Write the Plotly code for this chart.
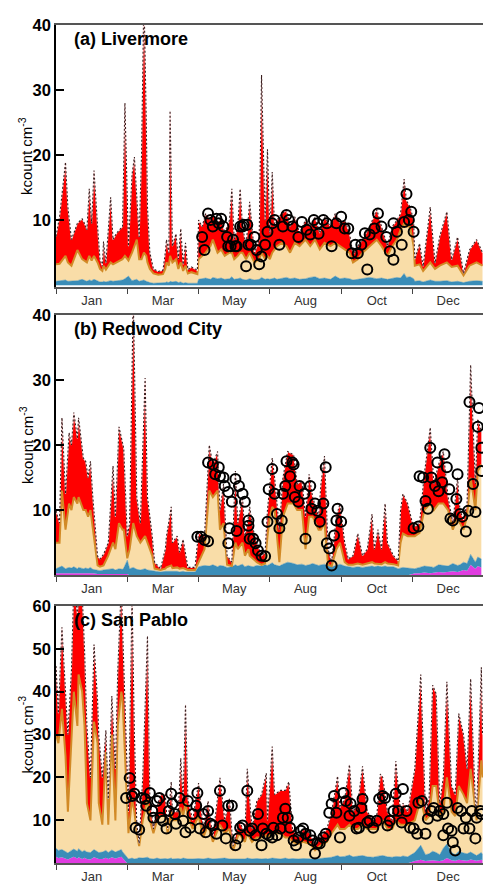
import plotly.graph_objects as go

W, H = 483, 888

# month labels sit between the 60-day tick marks
MONTH_TICKS = [0, 60, 120, 180, 240, 300]
MONTH_MIDS = [30, 90, 150, 210, 270, 330]
MONTH_LABELS = ["Jan", "Mar", "May", "Aug", "Oct", "Dec"]

# ---- (a) Livermore ----
A_DAY = [0, 3, 8, 10, 13, 18, 22, 24, 26, 28,
         30, 32, 35, 37, 39, 40, 42, 46, 48, 51,
         56, 58, 61, 64, 66, 68, 70, 72, 74, 76,
         77, 79, 82, 86, 90, 92, 93, 95, 96, 98,
         101, 103, 105, 107, 109, 111, 114, 119, 120, 123,
         126, 130, 132, 136, 139, 142, 146, 148, 150, 153,
         155, 157, 160, 163, 167, 171, 173, 176, 178, 180,
         182, 184, 186, 190, 194, 197, 201, 205, 210, 214,
         218, 222, 226, 231, 235, 239, 243, 247, 250, 254,
         258, 264, 270, 274, 279, 283, 287, 290, 293, 295,
         298, 301, 302, 306, 309, 315, 319, 323, 329, 333,
         338, 343, 348, 354, 359]
A_TOTAL = [7.5, 10.5, 18.9, 12, 7, 9.5, 10.2, 9.5, 8.5, 14.8,
           9.5, 17.6, 9, 4, 2.9, 6.7, 3.4, 13.5, 7, 8,
           9, 28, 6, 17, 19.7, 14, 7.4, 20, 45, 25,
           12, 5, 2.5, 2.1, 2.3, 5, 7, 5, 26.8, 6,
           7.9, 4, 8.7, 3.2, 6.5, 2.4, 2.8, 2.3, 10, 9,
           11, 10, 11, 9.5, 10.5, 8, 10, 14.8, 7, 9,
           14.8, 9, 6, 12.8, 4.9, 7, 32.3, 10, 20.9, 8,
           17.4, 9, 10, 11, 11.5, 9, 10.5, 8, 10, 9,
           10.5, 8, 10.5, 9, 11, 9.5, 10, 8, 4.7, 6,
           7, 9, 11.6, 9, 6, 9, 10, 11, 16.3, 13,
           12, 10, 4, 6.4, 2.9, 12, 3.4, 7.5, 11.3, 3.9,
           7.4, 1.8, 5.4, 7, 5]
A_BASE = [3.2, 3.3, 4.5, 3.5, 3.0, 5.4, 4, 3.8, 3.5, 4.5,
          3.8, 4.5, 3.5, 2.5, 2.2, 3, 2.4, 3.5, 3.2, 3.5,
          4, 4.5, 3.8, 5, 6, 7, 4, 4, 5, 4.5,
          3.5, 2.5, 1.8, 1.6, 1.7, 2.5, 3.5, 3, 4.5, 3.5,
          4, 2.5, 3.5, 2.2, 3, 1.8, 2, 1.7, 4, 4.5,
          5, 6, 7, 5, 5.5, 4.5, 5, 5, 4, 4.5,
          5, 5, 4, 5, 3.5, 4, 5, 4, 4.5, 4,
          5, 5.5, 6, 6.5, 6, 5, 6.5, 6, 7, 6,
          7, 5.5, 6.5, 6, 6.5, 6, 5.5, 5, 3.5, 4,
          5, 6, 7, 6, 4.5, 6, 7, 8.5, 9.5, 9,
          9, 6, 3, 3.2, 2.2, 3.5, 2.5, 3, 3.5, 2.8,
          3, 1.5, 3, 3.5, 3]
A_BLUE = [0.6, 0.7, 0.8, 0.6, 0.6, 0.7, 0.9, 0.7, 0.6, 0.8,
          0.7, 0.9, 0.6, 0.5, 0.5, 0.6, 0.5, 0.7, 0.6, 0.7,
          0.8, 1.0, 1.4, 0.7, 0.8, 0.9, 0.6, 0.7, 0.8, 0.6,
          0.5, 0.4, 0.3, 0.3, 0.3, 0.4, 0.5, 0.4, 0.6, 0.5,
          0.6, 0.4, 0.5, 0.3, 0.4, 0.3, 0.3, 0.3, 0.9, 1.0,
          1.1, 0.9, 1.2, 1.0, 1.1, 0.9, 1.0, 1.3, 0.9, 1.0,
          1.1, 0.9, 0.8, 1.0, 0.8, 0.9, 1.2, 0.9, 1.0, 0.9,
          1.0, 1.1, 0.9, 1.0, 1.2, 1.0, 1.1, 0.9, 1.0, 1.2,
          1.3, 1.0, 1.1, 0.9, 1.4, 1.0, 1.1, 1.0, 0.8, 0.9,
          1.0, 1.2, 1.0, 1.1, 0.9, 1.0, 1.2, 1.1, 1.8, 1.2,
          1.3, 1.0, 0.6, 0.7, 0.5, 0.8, 0.6, 0.6, 0.7, 0.5,
          0.6, 0.4, 0.6, 0.7, 0.6]
A_MAG = [0] * len(A_DAY)
A_OBS_DAY = [123, 125, 128, 130, 132, 135, 137, 139, 141, 144,
             145, 147, 149, 151, 152, 155, 157, 158, 160, 161,
             162, 164, 167, 169, 171, 173, 176, 178, 182, 184,
             188, 191, 194, 196, 199, 204, 207, 211, 214, 217,
             220, 221, 225, 228, 232, 236, 240, 243, 246, 249,
             252, 254, 257, 260, 262, 264, 268, 271, 274, 278,
             281, 284, 284, 287, 291, 293, 295, 297, 299, 301]
A_OBS = [7.4, 5.4, 11, 10, 9, 10.2, 9.5, 10.2, 9, 7.4,
         6, 6, 7, 6, 6, 9, 9, 9.3, 2.9, 9.3,
         6.2, 6.2, 7.4, 5.4, 3.2, 4.4, 6.2, 8.2, 9.5, 10,
         6.2, 9, 10.8, 10, 9, 7.4, 9.7, 8.5, 7.8, 10,
         9.5, 7.9, 10, 9.5, 6, 9.5, 10.5, 8.7, 8.7, 4.9,
         6.2, 4.9, 6.2, 8, 2.4, 7.8, 8.7, 11, 9, 7.4,
         5.2, 9.5, 3.9, 8.2, 6.2, 9.7, 14, 10, 11.3, 8.2]

# ---- (b) Redwood City ----
B_DAY = [0, 3, 5, 8, 11, 13, 15, 18, 19, 23,
         25, 27, 29, 31, 35, 37, 40, 44, 48, 50,
         53, 56, 57, 60, 62, 65, 68, 71, 75, 77,
         81, 83, 88, 92, 93, 97, 98, 102, 104, 107,
         109, 111, 117, 120, 125, 129, 132, 136, 138, 141,
         144, 148, 151, 153, 157, 159, 162, 163, 166, 169,
         173, 176, 178, 180, 182, 184, 188, 191, 195, 200,
         203, 207, 210, 213, 216, 221, 223, 226, 229, 232,
         236, 239, 243, 246, 250, 254, 258, 262, 266, 268,
         271, 274, 277, 279, 284, 288, 290, 292, 296, 300,
         302, 306, 310, 315, 318, 322, 326, 330, 334, 338,
         340, 343, 346, 349, 353, 355, 358]
B_TOTAL = [9.9, 8, 24.2, 12.5, 21.9, 20, 25, 21, 24.2, 18,
           17.5, 15, 17.5, 12, 2.9, 2.5, 3.2, 5, 16.8, 9,
           22.8, 20, 19.5, 6, 8, 43, 12, 8, 30.3, 12,
           6, 2, 1, 4, 6, 10.5, 5, 6, 3.5, 5.5,
           3, 1.2, 1.2, 6.5, 6, 20, 17, 19, 10, 14,
           3, 2, 16, 8, 12, 6, 9, 10.5, 7, 5,
           3, 3.5, 10, 14, 18, 15, 7, 15, 19, 18.5,
           14, 14.5, 9, 15.5, 12, 9, 14, 18.3, 4, 2,
           9, 11, 5, 2.5, 3, 6.4, 3, 4, 9.4, 4,
           7, 4, 11, 5, 3, 2.2, 10, 12.5, 11, 8,
           7.5, 8, 15.5, 22.7, 14, 17, 19, 12, 8, 15,
           10, 8.5, 11, 32.3, 14, 24, 22]
B_BASE = [5, 5, 13, 7, 11, 10, 12, 11, 12, 10,
          10, 9, 10, 7, 1.5, 1.3, 1.5, 3, 5, 4,
          8, 7, 7, 2.6, 4, 8, 6, 5, 6, 5,
          3, 1, 0.8, 1, 1.2, 1.5, 1.1, 1.2, 1, 1.1,
          1, 0.8, 0.8, 2, 4, 13, 12, 13, 7, 8,
          1.6, 1.4, 5, 4, 5, 3, 4, 3, 2.5, 2,
          1.6, 1.8, 6, 9, 10.5, 10, 2, 9, 11, 11,
          10, 10, 4, 9, 9, 7, 7, 8, 1.6, 1.4,
          4, 5, 2, 1.6, 1.6, 1.8, 1.6, 1.8, 2, 1.8,
          1.8, 1.7, 2, 1.8, 1.7, 1.5, 5, 6.4, 6, 6,
          6, 6.5, 10, 11, 10, 11, 11, 10, 7, 9,
          8, 7, 9, 15, 10, 16, 17]
B_BLUE = [1.0, 1.2, 1.4, 1.0, 1.2, 1.1, 1.3, 1.0, 1.2, 1.0,
          1.1, 1.0, 1.2, 0.9, 0.8, 0.7, 0.8, 0.9, 1.0, 0.8,
          1.0, 0.9, 1.1, 2.3, 1.0, 1.2, 0.9, 0.8, 1.0, 0.8,
          0.7, 0.6, 0.5, 0.6, 0.6, 0.7, 0.6, 0.6, 0.5, 0.6,
          0.5, 0.5, 0.5, 1.3, 1.5, 1.4, 1.6, 1.3, 1.5, 1.4,
          1.2, 1.3, 1.6, 1.4, 1.7, 1.3, 1.5, 1.4, 1.3, 1.5,
          1.4, 1.6, 1.5, 1.7, 1.9, 1.6, 1.4, 1.7, 2.0, 1.8,
          1.6, 1.7, 1.5, 1.6, 1.8, 1.5, 1.6, 1.7, 1.4, 1.3,
          1.5, 1.7, 1.4, 1.3, 1.2, 1.3, 1.2, 1.3, 1.4, 1.3,
          1.4, 1.3, 1.4, 1.3, 1.3, 1.0, 1.1, 1.2, 1.1, 1.0,
          1.0, 1.2, 1.4, 1.3, 1.2, 1.6, 1.5, 1.4, 1.8, 1.5,
          1.6, 2.0, 1.8, 3.2, 2.0, 2.8, 2.5]
B_MAG = [0.3, 0.3, 0.4, 0.3, 0.3, 0.3, 0.4, 0.3, 0.3, 0.3,
         0.3, 0.3, 0.3, 0.3, 0.2, 0.2, 0.2, 0.2, 0.3, 0.3,
         0.3, 0.3, 0.3, 0.2, 0, 0, 0, 0, 0, 0,
         0, 0, 0, 0, 0, 0, 0, 0, 0, 0,
         0, 0, 0, 0, 0, 0, 0, 0, 0, 0,
         0, 0, 0, 0, 0, 0, 0, 0, 0, 0,
         0, 0, 0, 0, 0, 0, 0, 0, 0, 0,
         0, 0, 0, 0, 0, 0, 0, 0, 0, 0,
         0, 0, 0, 0, 0, 0, 0, 0, 0, 0,
         0, 0, 0, 0, 0, 0, 0, 0, 0, 0.2,
         0.3, 0.3, 0.4, 0.3, 0.4, 0.5, 0.4, 0.5, 0.6, 0.5,
         0.6, 0.8, 0.7, 1.6, 1.0, 1.4, 1.2]
B_OBS_DAY = [119, 122, 125, 128, 128, 132, 134, 137, 138, 141,
             142, 145, 145, 146, 148, 151, 152, 154, 157, 159,
             162, 163, 162, 166, 168, 170, 173, 176, 178, 179,
             182, 184, 186, 188, 190, 191, 193, 194, 197, 199,
             200, 201, 204, 205, 209, 210, 214, 215, 218, 220,
             222, 225, 227, 228, 230, 232, 234, 236, 237, 240,
             301, 305, 306, 309, 311, 313, 315, 316, 319, 321,
             322, 325, 327, 329, 331, 332, 334, 337, 338, 340,
             342, 345, 347, 348, 351, 353, 355, 356, 358, 358]
B_OBS = [5.9, 5.9, 5.4, 5.2, 17.3, 17, 15.5, 16.6, 15.2, 15,
         13.7, 12.8, 4.9, 7.2, 11.3, 14.8, 6.8, 13.7, 12.5, 11.3,
         8.4, 5.6, 7.6, 5.6, 4.9, 3.8, 3, 2.9, 8.2, 13.2,
         16.3, 12.5, 9.4, 7.2, 8.4, 12.5, 13.7, 17.5, 15.2, 17.3,
         17, 12, 11.3, 13.7, 12.5, 5.6, 13.7, 10.2, 11, 9.9,
         8.2, 11, 16.6, 4.9, 4.1, 1.5, 6.1, 8.4, 10.2, 8.2,
         7.2, 7.5, 15.2, 15, 11.4, 10.2, 19.6, 15, 13.7, 17.3,
         12.9, 14.3, 18.6, 16.6, 13.2, 8.7, 8.4, 11.7, 15.5, 9.4,
         9, 6.7, 9.9, 26.6, 14, 9.7, 22.8, 25.7, 19.6, 16]

# ---- (c) San Pablo ----
C_DAY = [0, 2, 5, 8, 10, 13, 15, 18, 19, 22,
         24, 26, 29, 32, 35, 36, 39, 42, 44, 47,
         50, 52, 55, 56, 60, 61, 64, 66, 68, 70,
         73, 77, 79, 82, 85, 88, 92, 94, 97, 98,
         103, 105, 107, 109, 111, 115, 120, 124, 128, 132,
         138, 142, 146, 149, 154, 159, 161, 165, 169, 173,
         177, 178, 182, 184, 189, 193, 196, 199, 204, 208,
         214, 218, 222, 228, 232, 237, 239, 243, 247, 250,
         254, 258, 262, 267, 270, 273, 275, 279, 283, 286,
         290, 292, 296, 302, 307, 311, 314, 317, 320, 323,
         326, 329, 333, 336, 339, 343, 346, 349, 353, 354,
         358, 359]
C_TOTAL = [46, 35, 55, 40, 30, 45, 65, 58, 62, 63,
           50, 32, 20, 51, 38, 30, 20, 31, 15, 39,
           22, 45, 65, 55, 20, 12, 62, 30, 9, 4.6,
           20, 53, 15, 8, 13, 16, 16, 8, 19, 12,
           12, 24.5, 15, 37, 15, 10, 18.7, 8, 14.5, 6,
           19.9, 10, 15, 4, 10, 7, 22, 8, 14.5, 16,
           21, 10, 27.2, 16, 17, 17, 19, 8, 6, 8,
           7, 4, 6, 8, 12, 20.3, 13, 15, 23, 12,
           14, 22.6, 12, 10, 11, 20.8, 20, 12, 10, 23.8,
           12, 14, 12, 22, 44, 12, 15, 41.5, 39.5, 14,
           20, 42.3, 18, 16, 34.9, 30, 22, 43, 14, 12,
           45.7, 30]
C_BASE = [30, 28, 36, 25, 12, 28, 40, 32, 44, 40,
          32, 14, 10, 33, 28, 14, 9, 26, 9, 30,
          10, 32, 40, 38, 13, 7, 15, 12, 7, 4,
          10, 15, 10, 7, 10, 11, 11, 7, 12, 10,
          10, 13, 11, 14, 11, 8, 11, 6, 9, 5,
          9, 7, 8, 3, 7, 5, 7, 5, 6, 6,
          6.5, 6, 7, 7, 7, 6, 6, 5, 4.5, 5,
          4.5, 3, 4, 5, 7, 9, 8, 8, 9, 8,
          8, 9, 8, 8, 8, 9, 10, 8, 8, 10,
          9, 9, 9, 10, 15, 10, 11, 18, 18, 11,
          12, 20, 12, 11, 18, 16, 14, 22, 11, 10,
          24, 20]
C_BLUE = [3.5, 3.0, 3.2, 2.6, 2.4, 3.0, 3.3, 2.8, 3.4, 2.7,
          3.0, 2.6, 2.5, 3.2, 2.7, 2.5, 2.6, 3.0, 2.5, 3.1,
          2.6, 2.8, 3.2, 2.7, 1.2, 1.0, 1.2, 1.0, 1.1, 1.3,
          1.2, 1.4, 1.1, 1.0, 1.2, 1.0, 1.1, 1.0, 1.2, 1.0,
          1.1, 1.0, 1.2, 1.1, 1.0, 1.0, 1.1, 1.0, 1.2, 1.0,
          1.1, 1.2, 1.0, 1.0, 1.1, 1.0, 1.2, 1.0, 1.1, 1.0,
          1.1, 1.0, 1.2, 1.1, 1.0, 1.2, 1.0, 1.1, 1.0, 1.1,
          1.0, 1.0, 1.1, 1.2, 1.4, 1.8, 1.5, 1.6, 1.9, 1.5,
          1.6, 1.8, 1.5, 1.4, 1.6, 1.7, 1.8, 1.5, 1.4, 1.6,
          1.5, 1.7, 1.5, 2.5, 4.2, 2.0, 2.2, 2.8, 2.5, 2.0,
          3.5, 4.5, 2.5, 2.0, 2.8, 2.4, 2.2, 2.6, 2.0, 1.8,
          2.5, 2.0]
C_MAG = [1.5, 1.2, 1.4, 1.0, 0.9, 1.3, 1.5, 1.1, 1.4, 1.0,
         1.3, 1.0, 0.9, 1.4, 1.1, 1.0, 1.0, 1.3, 1.0, 1.4,
         1.1, 1.2, 1.5, 1.2, 0, 0, 0, 0, 0, 0,
         0, 0, 0, 0, 0, 0, 0, 0, 0, 0,
         0, 0, 0, 0, 0, 0, 0, 0, 0, 0,
         0, 0, 0, 0, 0, 0, 0, 0, 0, 0,
         0, 0, 0, 0, 0, 0, 0, 0, 0, 0,
         0, 0, 0, 0, 0, 0, 0, 0, 0, 0,
         0, 0, 0, 0, 0, 0, 0, 0, 0, 0,
         0, 0, 0, 0.5, 0.8, 0.5, 0.6, 0.7, 0.6, 0.5,
         0.7, 1.2, 0.7, 0.6, 0.8, 0.7, 0.6, 0.9, 0.7, 0.6,
         0.8, 0.7]
C_OBS_DAY = [59, 62, 64, 66, 67, 70, 72, 75, 76, 79,
             81, 82, 85, 87, 88, 90, 93, 95, 97, 98,
             100, 101, 104, 107, 109, 111, 113, 115, 118, 119,
             121, 124, 126, 128, 130, 132, 135, 138, 140, 143,
             145, 148, 151, 153, 155, 157, 161, 163, 165, 168,
             170, 173, 174, 177, 179, 182, 183, 186, 189, 191,
             193, 195, 197, 200, 202, 204, 206, 208, 210, 214,
             216, 218, 220, 222, 225, 227, 230, 232, 234, 236,
             239, 242, 244, 247, 248, 251, 253, 255, 257, 258,
             262, 264, 267, 270, 272, 275, 277, 279, 281, 284,
             286, 288, 291, 292, 295, 298, 301, 304, 305, 308,
             311, 313, 316, 318, 321, 323, 326, 326, 329, 330,
             333, 334, 336, 338, 341, 343, 345, 348, 350, 353,
             354, 357, 358]
C_OBS = [15.2, 19.9, 15.7, 16.2, 8.3, 7.8, 15.2, 15, 13.4, 16.4,
         12.2, 10.6, 14.5, 15.2, 10.6, 9.9, 8.1, 12.2, 16.2, 13.9,
         11.5, 9.2, 15.2, 9.9, 7.2, 14.5, 8.3, 11.5, 13.4, 16.4,
         8.1, 11.5, 7.2, 12.2, 9.2, 8.8, 6.9, 16.9, 8.8, 5.8,
         13.4, 13.4, 4.2, 5.8, 8.3, 8.8, 16.9, 7.6, 8.1, 6.5,
         11.5, 4.2, 8.1, 6.9, 6.5, 6, 8.3, 6.5, 8.1, 10.6,
         12.7, 10.6, 8.3, 5.3, 4.2, 6, 7.6, 8.1, 6.9, 6.5,
         5.3, 2.3, 4.6, 4.6, 6, 6.9, 11.8, 13.9, 15.7, 11.8,
         6, 16.4, 14.5, 11.1, 13.9, 12.2, 8.1, 8.3, 12.9, 15,
         9.5, 9.9, 8.3, 9.9, 15, 15.7, 15.2, 8.8, 9.9, 12.2,
         16.2, 12.2, 9.5, 17.3, 12.2, 8.3, 8.1, 6.9, 14.1, 14.5,
         6.9, 10.4, 12.2, 12.9, 11.1, 12.2, 11.5, 6.5, 14.1, 8.1,
         7.6, 4.9, 3, 12.9, 12.2, 8.1, 10.6, 8.1, 12.2, 5.8,
         10.6, 12.2, 11.5]

PANELS = [
    ("(a) Livermore", A_DAY, A_MAG, A_BLUE, A_BASE, A_TOTAL, A_OBS_DAY, A_OBS,
     [-0.3, 40], [10, 20, 30, 40], (16, 281)),
    ("(b) Redwood City", B_DAY, B_MAG, B_BLUE, B_BASE, B_TOTAL, B_OBS_DAY, B_OBS,
     [0, 40], [10, 20, 30, 40], (309, 572)),
    ("(c) San Pablo", C_DAY, C_MAG, C_BLUE, C_BASE, C_TOTAL, C_OBS_DAY, C_OBS,
     [0, 60], [10, 20, 30, 40, 50, 60], (603, 863)),
]

MAGENTA = "#E03CE0"
TEAL = "#3A8DB8"
TAN = "#F9DDA8"
ORANGE = "#D28A26"
RED = "#FF0000"

fig = go.Figure()
layout = dict(
    width=W, height=H, margin=dict(l=0, r=0, t=0, b=0),
    paper_bgcolor="white", plot_bgcolor="white", showlegend=False,
    font=dict(family="Liberation Sans, Arial, sans-serif", color="black"),
)
annotations = []

for i, (title, day, mag, blue, base, total, odays, obs, yr, yt, (top, bot)) in enumerate(PANELS):
    n = "" if i == 0 else str(i + 1)
    xa, ya = "x" + n, "y" + n
    common = dict(x=day, xaxis=xa, yaxis=ya, mode="lines", hoverinfo="skip")
    fig.add_trace(go.Scatter(y=mag, fill="tozeroy", fillcolor=MAGENTA,
                             line=dict(width=0, color=MAGENTA), **common))
    fig.add_trace(go.Scatter(y=blue, fill="tonexty", fillcolor=TEAL,
                             line=dict(width=0.5, color=TEAL), **common))
    fig.add_trace(go.Scatter(y=base, fill="tonexty", fillcolor=TAN,
                             line=dict(width=0, color=TAN), **common))
    fig.add_trace(go.Scatter(y=total, fill="tonexty", fillcolor=RED,
                             line=dict(width=0, color=RED), **common))
    fig.add_trace(go.Scatter(y=base, line=dict(width=2, color=ORANGE), **common))
    fig.add_trace(go.Scatter(y=total, line=dict(width=1.1, color="rgba(255,235,235,0.9)"), **common))
    fig.add_trace(go.Scatter(y=total, line=dict(width=1.1, color="#3a2020", dash="2px,2px"), **common))
    fig.add_trace(go.Scatter(x=odays, y=obs, xaxis=xa, yaxis=ya, mode="markers",
                             hoverinfo="skip",
                             marker=dict(symbol="circle-open", size=10, color="black",
                                         line=dict(width=2, color="black"))))

    dom = [1 - bot / H, 1 - top / H]
    layout["xaxis" + n] = dict(
        domain=[56 / W, 1], anchor=ya, range=[0, 359.4],
        tickmode="array", tickvals=MONTH_MIDS, ticktext=MONTH_LABELS,
        ticks="", tickfont=dict(size=13, color="#333"),
        minor=dict(tickmode="array", tickvals=MONTH_TICKS, ticks="outside",
                   ticklen=5, tickwidth=1.2, tickcolor="#444"),
        showline=True, linecolor="#555", linewidth=1.8, mirror=True,
        showgrid=False, zeroline=False,
    )
    layout["yaxis" + n] = dict(
        domain=dom, anchor=xa, range=yr, tickmode="array", tickvals=yt,
        ticks="inside", ticklen=8, tickwidth=1.5, tickcolor="black",
        tickfont=dict(size=16.5, weight="bold", color="black"),
        showline=True, linecolor="black", linewidth=1.5,
        showgrid=False, zeroline=False,
    )
    annotations.append(dict(
        text=title, xref="paper", yref="paper", x=72 / W, y=1 - (top + 14) / H,
        xanchor="left", yanchor="middle", showarrow=False,
        font=dict(size=18, weight="bold", color="black"),
    ))
    annotations.append(dict(
        text="kcount cm<sup>-3</sup>", xref="paper", yref="paper",
        x=26 / W, y=1 - (top + bot) / 2 / H, textangle=-90,
        xanchor="center", yanchor="middle", showarrow=False,
        font=dict(size=15, color="black"),
    ))

layout["annotations"] = annotations
fig.update_layout(**layout)
# page body has a default 8px margin; drop it so the figure fills the window
fig.write_html("out.html", config={"displayModeBar": False},
               post_script="document.body.style.margin='0';")
